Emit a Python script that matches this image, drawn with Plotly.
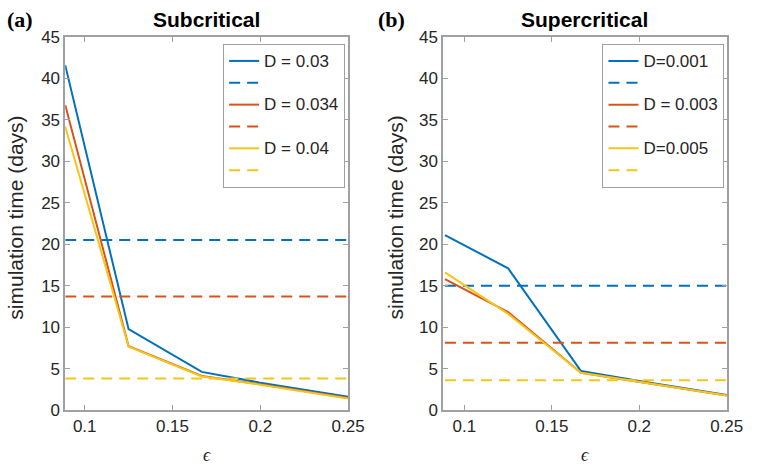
import plotly.graph_objects as go

# epsilon values at which simulations were run
eps = [0.0889, 0.125, 0.1667, 0.2, 0.25]

# (a) subcritical: simulation time vs epsilon for each D, plus reference levels
sub_labels = ["D = 0.03", "D = 0.034", "D = 0.04"]
sub_times = [
    [41.6, 9.75, 4.6, 3.3, 1.6],
    [36.8, 7.7, 4.1, 3.1, 1.45],
    [34.2, 7.65, 4.05, 3.05, 1.4],
]
sub_ref = [20.5, 13.7, 3.8]

# (b) supercritical
sup_labels = ["D=0.001", "D = 0.003", "D=0.005"]
sup_times = [
    [21.1, 17.1, 4.7, 3.5, 1.8],
    [15.8, 11.8, 4.5, 3.4, 1.75],
    [16.6, 11.6, 4.5, 3.4, 1.75],
]
sup_ref = [15.0, 8.1, 3.6]

x_ticks = [0.1, 0.15, 0.2, 0.25]
x_tick_text = ["0.1", "0.15", "0.2", "0.25"]

colors = ["#0072BD", "#D95319", "#F5C518"]
W, H = 762, 465
TOP, BOT = 37, 410            # plot area in pixels
FONT = "Liberation Sans, Arial, sans-serif"
TXT = "#262626"
GRID = "#a0a0a0"


def px(p):
    """pixel column -> paper x"""
    return p / W


def py(p):
    """pixel row -> paper y"""
    return (BOT - p) / (BOT - TOP)


def legend_text(s):
    # larger glyphs while keeping the compact row spacing of a small legend font
    return f"<span style='font-size:17px'>{s}</span>"


fig = go.Figure()

panels = [
    ("x", "y", "legend", sub_labels, sub_times, sub_ref),
    ("x2", "y2", "legend2", sup_labels, sup_times, sup_ref),
]
for xa, ya, leg, labels, times, refs in panels:
    for lab, ys, ref, c in zip(labels, times, refs, colors):
        fig.add_trace(go.Scatter(
            x=eps, y=ys, mode="lines", name=legend_text(lab), legend=leg,
            line=dict(color=c, width=2), xaxis=xa, yaxis=ya))
        fig.add_trace(go.Scatter(
            x=eps, y=[ref] * len(eps), mode="lines", name=" ", legend=leg,
            line=dict(color=c, width=2, dash="11px,7px"), xaxis=xa, yaxis=ya))

axis_common = dict(
    showline=True, linecolor=GRID, linewidth=1.5, mirror="ticks",
    ticks="inside", ticklen=5, tickcolor=GRID, tickwidth=1,
    showgrid=False, zeroline=False,
    tickfont=dict(family=FONT, size=17, color=TXT),
)
xdoms = [[px(66.7), px(356)], [px(453.3), px(743.3)]]

legend_common = dict(
    bgcolor="white", bordercolor=GRID, borderwidth=1,
    font=dict(family=FONT, size=14.5, color=TXT),
    xanchor="right", yanchor="top", tracegroupgap=0,
)

fig.update_layout(
    width=W, height=H,
    margin=dict(l=0, r=0, t=TOP, b=H - BOT),
    paper_bgcolor="white", plot_bgcolor="white",
    xaxis=dict(domain=xdoms[0], range=[0.0889, 0.25], tickvals=x_ticks,
               ticktext=x_tick_text, anchor="y", **axis_common),
    yaxis=dict(domain=[0, 1], range=[0, 45], dtick=5, anchor="x", **axis_common),
    xaxis2=dict(domain=xdoms[1], range=[0.0879, 0.25], tickvals=x_ticks,
                ticktext=x_tick_text, anchor="y2", **axis_common),
    yaxis2=dict(domain=[0, 1], range=[0, 45], dtick=5, anchor="x2", **axis_common),
    legend=dict(x=px(353), y=py(44), **legend_common),
    legend2=dict(x=px(741), y=py(44), **legend_common),
    showlegend=True,
)

annotations = []
for i, (title, tag) in enumerate([("Subcritical", "(a)"), ("Supercritical", "(b)")]):
    cx = (xdoms[i][0] + xdoms[i][1]) / 2
    annotations += [
        dict(text=f"<b>{title}</b>", x=cx, y=py(20), xref="paper", yref="paper",
             showarrow=False, xanchor="center", yanchor="middle",
             font=dict(family=FONT, size=21, color="black")),
        dict(text=f"<b>{tag}</b>", x=px(5 + 380 * i), y=py(20), xref="paper",
             yref="paper", showarrow=False, xanchor="left", yanchor="middle",
             font=dict(family="Liberation Serif, Times New Roman, serif", size=22,
                       color="black")),
        dict(text="simulation time (days)", x=px(15.5 + 389.5 * i), y=py(217.5),
             xref="paper", yref="paper", showarrow=False, textangle=-90,
             xanchor="center", yanchor="middle",
             font=dict(family=FONT, size=21, color=TXT)),
        dict(text="<i>ϵ</i>", x=cx, y=py(455), xref="paper", yref="paper",
             showarrow=False, xanchor="center", yanchor="middle",
             font=dict(family="Liberation Serif, Times New Roman, serif", size=18,
                       color=TXT)),
    ]
fig.update_layout(annotations=annotations)

fig.write_html("out.html")
